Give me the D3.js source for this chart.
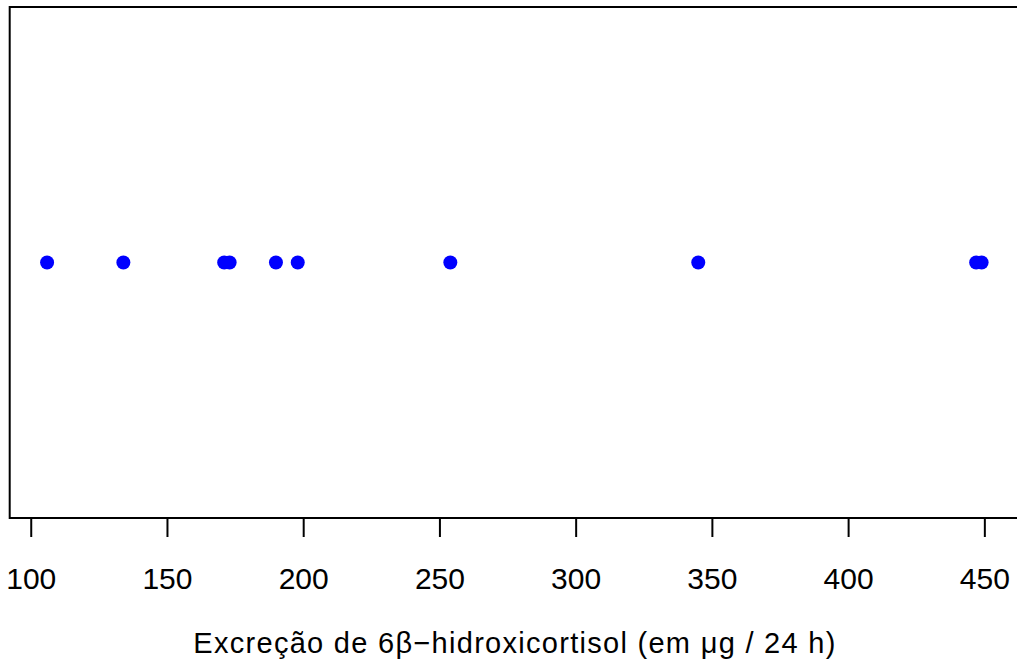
<!DOCTYPE html>
<html>
<head>
<meta charset="utf-8">
<script src="https://cdn.jsdelivr.net/npm/d3@7"></script>
<style>
  body { margin: 0; background: #fff; }
  svg { display: block; font-family: "Liberation Sans", Arial, sans-serif; }
</style>
</head>
<body>
<div id="chart"></div>
<script>
// excretion values (µg / 24 h)
var values = [106, 134, 171, 173, 190, 198, 254, 345, 447, 449];
var tickValues = [100, 150, 200, 250, 300, 350, 400, 450];
var axisTitle = "Excreção de 6β−hidroxicortisol (em μg / 24 h)";

function init() {
    var w = 1017;
    var h = 664;
    var left = 9.7, right = 1019, top = 7, bottom = 518;

    // R-style 4% padding around data range
    var lo = d3.min(values), hi = d3.max(values);
    var pad = (hi - lo) * 0.04;

    var xScale = d3.scaleLinear()
        .domain([lo - pad, hi + pad])
        .range([left, right]);

    var svg = d3.select("#chart")
        .append("svg")
        .attr("width", w)
        .attr("height", h);

    // plot box
    svg.append("rect")
        .attr("x", left)
        .attr("y", top)
        .attr("width", right - left)
        .attr("height", bottom - top)
        .attr("fill", "none")
        .attr("stroke", "#000")
        .attr("stroke-width", 2);

    // points
    svg.selectAll("circle")
        .data(values)
        .enter()
        .append("circle")
        .attr("cx", function (d) { return xScale(d); })
        .attr("cy", (top + bottom) / 2)
        .attr("r", 7)
        .attr("fill", "#0000ff");

    // x axis
    var xAxis = d3.axisBottom(xScale)
        .tickValues(tickValues)
        .tickSize(19)
        .tickPadding(31)
        .tickFormat(d3.format("d"));

    var gx = svg.append("g")
        .attr("class", "x axis")
        .attr("transform", "translate(0," + bottom + ")")
        .call(xAxis);
    gx.select(".domain")
        .attr("d", "M" + xScale(100) + ",0H" + xScale(450))
        .attr("stroke-width", 2);
    gx.selectAll(".tick line").attr("stroke-width", 2);
    gx.selectAll(".tick text")
        .attr("font-size", "30px")
        .attr("font-family", "Liberation Sans, Arial, sans-serif")
        .attr("fill", "#000");

    // axis title, stretched to the reference's width
    svg.append("text")
        .attr("x", (left + right) / 2)
        .attr("y", 653)
        .attr("text-anchor", "middle")
        .attr("font-size", "29px")
        .attr("textLength", 642)
        .attr("lengthAdjust", "spacing")
        .attr("fill", "#000")
        .text(axisTitle);
}

window.onload = init;
</script>
</body>
</html>
